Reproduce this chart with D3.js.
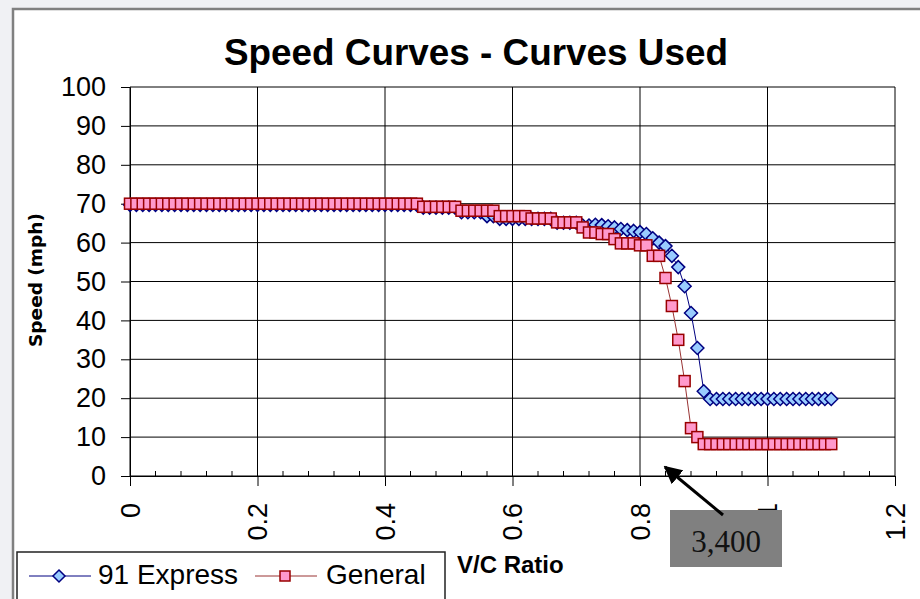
<!DOCTYPE html>
<html>
<head>
<meta charset="utf-8">
<script src="https://cdn.jsdelivr.net/npm/d3@7"></script>
<style>
body { margin: 0; background: #f0f1f4; }
svg { display: block; font-family: "Liberation Sans", Arial, sans-serif; }
</style>
</head>
<body>
<svg id="svg" width="920" height="599"></svg>
<script>
var vc = [0,0.01,0.02,0.03,0.04,0.05,0.06,0.07,0.08,0.09,
0.1,0.11,0.12,0.13,0.14,0.15,0.16,0.17,0.18,0.19,
0.2,0.21,0.22,0.23,0.24,0.25,0.26,0.27,0.28,0.29,
0.3,0.31,0.32,0.33,0.34,0.35,0.36,0.37,0.38,0.39,
0.4,0.41,0.42,0.43,0.44,0.45,0.46,0.47,0.48,0.49,
0.5,0.51,0.52,0.53,0.54,0.55,0.56,0.57,0.58,0.59,
0.6,0.61,0.62,0.63,0.64,0.65,0.66,0.67,0.68,0.69,
0.7,0.71,0.72,0.73,0.74,0.75,0.76,0.77,0.78,0.79,
0.8,0.81,0.82,0.83,0.84,0.85,0.86,0.87,0.88,0.89,
0.9,0.91,0.92,0.93,0.94,0.95,0.96,0.97,0.98,0.99,
1,1.01,1.02,1.03,1.04,1.05,1.06,1.07,1.08,1.09,1.1];

var express = [69.7,69.7,69.7,69.7,69.7,69.7,69.7,69.7,69.7,69.7,
69.7,69.7,69.7,69.7,69.7,69.7,69.7,69.7,69.7,69.7,
69.7,69.7,69.7,69.7,69.7,69.7,69.7,69.7,69.7,69.7,
69.7,69.7,69.7,69.7,69.7,69.7,69.7,69.7,69.7,69.7,
69.7,69.7,69.7,69.7,69.7,69.7,69.0,69.0,69.0,69.0,
69.0,69.0,67.8,67.8,67.8,67.8,66.8,66.8,66.1,66.1,
66.1,66.1,66.1,66.1,66.1,66.1,66.1,65.1,65.1,65.1,
65.1,64.4,64.4,64.6,64.5,64.2,63.9,63.5,63.2,63.0,
62.7,62.2,61.1,60.0,59.1,56.6,53.7,48.8,41.9,32.9,
21.8,19.8,19.8,19.8,19.8,19.8,19.8,19.8,19.8,19.8,
19.8,19.8,19.8,19.8,19.8,19.8,19.8,19.8,19.8,19.8,19.8];

var general = [70,70,70,70,70,70,70,70,70,70,
70,70,70,70,70,70,70,70,70,70,
70,70,70,70,70,70,70,70,70,70,
70,70,70,70,70,70,70,70,70,70,
70,70,70,70,70,70,69.2,69.2,69.2,69.2,
69.2,69.2,68.2,68.2,68.2,68.2,68.2,68.2,66.8,66.8,
66.8,66.8,66.8,66.2,66.2,66.2,66.2,65.2,65.2,65.2,
65.2,63.9,62.6,62.6,62.2,62.2,60.9,59.8,59.8,59.8,
59.3,59.3,56.6,56.6,50.9,43.7,35.0,24.4,12.3,10.0,
8.2,8.2,8.2,8.2,8.2,8.2,8.2,8.2,8.2,8.2,
8.2,8.2,8.2,8.2,8.2,8.2,8.2,8.2,8.2,8.2,8.2];

var yTicks = [0,10,20,30,40,50,60,70,80,90,100];
var xTicks = [0,0.2,0.4,0.6,0.8,1,1.2];
var xMinor = [0.04,0.08,0.12,0.16,0.24,0.28,0.32,0.36,0.44,0.48,0.52,0.56,0.64,0.68,0.72,0.76,0.84,0.88,0.92,0.96,1.04,1.08,1.12,1.16];
var seriesNames = ["91 Express","General"];

var svg = d3.select("#svg");

var x = d3.scaleLinear().domain([0,1.2]).range([130,895]);
var y = d3.scaleLinear().domain([0,100]).range([476,87]);

// chart frame
svg.append('rect')
.attr('x',13).attr('y',9)
.attr('width',930).attr('height',610)
.style('fill','#fff')
.style('stroke','#808080')
.style('stroke-width',2.5);

svg.append('text')
.attr('x',476).attr('y',65)
.attr('text-anchor','middle')
.attr('textLength',504)
.attr('lengthAdjust','spacingAndGlyphs')
.style('font-size','37px')
.style('font-weight','bold')
.text('Speed Curves - Curves Used');

// grid
svg.append('g').selectAll('line').data(yTicks).enter().append('line')
.attr('x1',130).attr('x2',895)
.attr('y1',function(d){return y(d);}).attr('y2',function(d){return y(d);})
.style('stroke','#000').style('stroke-width',1);
svg.append('g').selectAll('line').data(xTicks).enter().append('line')
.attr('x1',function(d){return x(d);}).attr('x2',function(d){return x(d);})
.attr('y1',87).attr('y2',476)
.style('stroke','#000').style('stroke-width',1);

// axes
var yAxis = svg.append('g')
.attr('transform','translate(130,0)')
.call(d3.axisLeft(y).tickValues(yTicks).tickSize(9).tickPadding(15));
yAxis.select('.domain').attr('stroke','#000');
yAxis.selectAll('text').style('font-size','27px').style('fill','#000')
.attr('font-family','"Liberation Sans", Arial, sans-serif');

var xAxis = svg.append('g')
.attr('transform','translate(0,476)')
.call(d3.axisBottom(x).tickValues(xTicks).tickSize(10).tickFormat(''));
xAxis.select('.domain').attr('stroke','#000');

svg.append('g').selectAll('line').data(xMinor).enter().append('line')
.attr('x1',function(d){return x(d);}).attr('x2',function(d){return x(d);})
.attr('y1',471).attr('y2',476)
.style('stroke','#000').style('stroke-width',1);

svg.append('g').selectAll('text').data(xTicks).enter().append('text')
.attr('transform',function(d){return 'translate(' + x(d) + ',503) rotate(-90)';})
.attr('text-anchor','end')
.attr('dy','0.36em')
.style('font-size','27px')
.text(function(d){return d;});

svg.append('text')
.attr('transform','translate(42,280) rotate(-90)')
.attr('text-anchor','middle')
.attr('textLength',134)
.attr('lengthAdjust','spacingAndGlyphs')
.style('font-size','17px')
.style('font-weight','bold')
.style('font-family','"DejaVu Sans", sans-serif')
.text('Speed (mph)');

svg.append('text')
.attr('x',457).attr('y',573)
.style('font-size','24px')
.style('font-weight','bold')
.text('V/C Ratio');

// series
var diamond = 'M0,-6.5L6.5,0L0,6.5L-6.5,0Z';
var line = d3.line()
.x(function(d,i){return x(vc[i]);})
.y(function(d){return y(d);});

svg.append('path')
.attr('d',line(express))
.style('fill','none')
.style('stroke','#000080')
.style('stroke-width',1);
svg.append('g').selectAll('path').data(express).enter().append('path')
.attr('transform',function(d,i){return 'translate(' + x(vc[i]) + ',' + y(d) + ')';})
.attr('d',diamond)
.style('fill','#99ccff')
.style('stroke','#000080')
.style('stroke-width',1.5);

svg.append('path')
.attr('d',line(general))
.style('fill','none')
.style('stroke','#993333')
.style('stroke-width',1);
svg.append('g').selectAll('rect').data(general).enter().append('rect')
.attr('x',function(d,i){return x(vc[i]) - 5.5;})
.attr('y',function(d){return y(d) - 5.5;})
.attr('width',11).attr('height',11)
.style('fill','#ff99cc')
.style('stroke','#990000')
.style('stroke-width',1.5);

// annotation
svg.append('defs').append('marker')
.attr('id','arrow')
.attr('viewBox','0 0 10 10')
.attr('refX',9).attr('refY',5)
.attr('markerWidth',6).attr('markerHeight',6)
.attr('orient','auto-start-reverse')
.append('path')
.attr('d','M0,0L10,5L0,10Z')
.style('fill','#000');

svg.append('rect')
.attr('x',670).attr('y',510)
.attr('width',112).attr('height',57)
.style('fill','#808080');
svg.append('text')
.attr('x',726).attr('y',552)
.attr('text-anchor','middle')
.style('font-family','"Liberation Serif", "Times New Roman", serif')
.style('font-size','31px')
.style('fill','#111')
.text('3,400');
svg.append('line')
.attr('x1',723).attr('y1',515)
.attr('x2',665).attr('y2',467)
.attr('marker-end','url(#arrow)')
.style('stroke','#000')
.style('stroke-width',3);

// legend
var legend = svg.append('g');
legend.append('rect')
.attr('x',17).attr('y',552)
.attr('width',428).attr('height',60)
.style('fill','#fff')
.style('stroke','#222')
.style('stroke-width',1.5);

var legX = [29,255];
var textX = [98,326];
legend.selectAll('line').data(seriesNames).enter().append('line')
.attr('x1',function(d,i){return legX[i];})
.attr('x2',function(d,i){return legX[i] + 62;})
.attr('y1',576).attr('y2',576)
.style('stroke',function(d,i){return i == 0 ? '#000080' : '#993333';})
.style('stroke-width',1);
legend.append('path')
.attr('transform','translate(59,576)')
.attr('d','M0,-6L6,0L0,6L-6,0Z')
.style('fill','#99ccff').style('stroke','#000080').style('stroke-width',1.5);
legend.append('rect')
.attr('x',280).attr('y',571).attr('width',10).attr('height',10)
.style('fill','#ff99cc').style('stroke','#990000').style('stroke-width',1.5);
legend.selectAll('text').data(seriesNames).enter().append('text')
.attr('x',function(d,i){return textX[i];})
.attr('y',584)
.style('font-size','28px')
.text(function(d){return d;});
</script>
</body>
</html>
